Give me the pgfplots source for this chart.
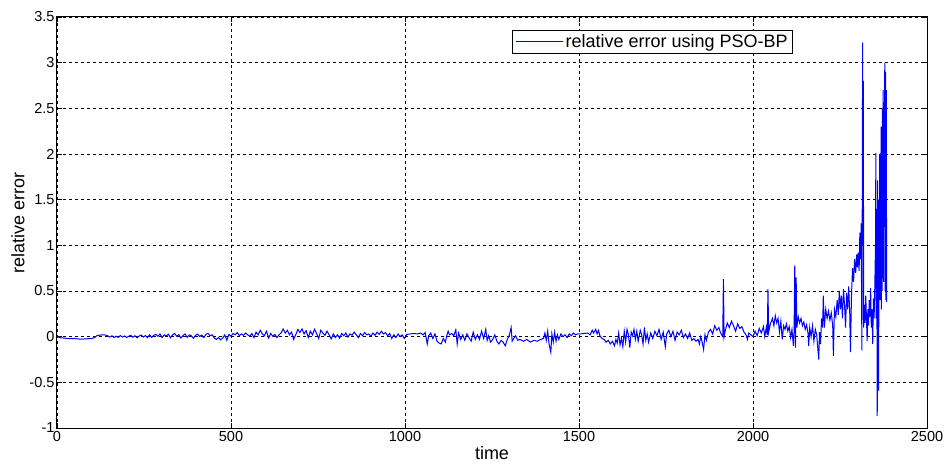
\documentclass[border=0pt]{standalone}
\usepackage{fontspec}
\setmainfont{Liberation Sans}
\usepackage{pgfplots}
\pgfplotsset{compat=1.18}
\definecolor{mblue}{RGB}{0,0,255}
\begin{document}
\begin{tikzpicture}
\path[use as bounding box] (-57pt,-38pt) rectangle (891pt,428pt);
\begin{axis}[
  at={(0pt,0pt)}, anchor=south west,
  scale only axis, width=870pt, height=411pt,
  xmin=0, xmax=2500, ymin=-1, ymax=3.5,
  xtick={0,500,...,2500},
  ytick={-1,-0.5,0,0.5,1,1.5,2,2.5,3,3.5},
  /pgf/number format/assume math mode=true,
  /pgf/number format/fixed,
  /pgf/number format/1000 sep={},
  ticklabel style={font=\fontsize{14.5}{17}\selectfont},
  yticklabel style={xshift=1pt},
  tick align=inside, major tick length=5pt,
  tick style={black, line width=0.6pt},
  axis line style={black, line width=1pt},
  grid=major,
  major grid style={black, line width=0.7pt, dash pattern=on 3pt off 3pt},
  xlabel={time}, ylabel={relative error},
  label style={font=\fontsize{18}{20}\selectfont},
  xlabel style={at={(axis description cs:0.5,-0.061)}, anchor=center},
  ylabel style={at={(axis description cs:-0.045,0.5)}, anchor=center},
  legend style={at={(axis description cs:0.523,0.968)}, anchor=north west,
    font=\fontsize{18}{20}\selectfont, draw=black, line width=0.8pt,
    inner xsep=3pt, inner ysep=2pt},
]
\addplot[mblue, line width=1pt,
  legend image code/.code={\draw[draw=mblue, line width=1.2pt] (0pt,0pt) -- (47pt,0pt);}] coordinates {
(0,0) (5,-0.005) (10,-0.012) (20,-0.015) (30,-0.02) (40,-0.022) (50,-0.02) (60,-0.025) (70,-0.028) (80,-0.025) (90,-0.022) (100,-0.02) (108,-0.01) (115,0.012) (125,0.018) (135,0.02) (142,0.015) (148,0.005) (152,-0.005)
(158,0.01) (164,-0.01) (170,0.005) (176,-0.008) (182,0.012) (188,-0.004) (194,0.008) (200,-0.01) (206,0.004) (212,0.015) (218,-0.006) (224,0.01) (230,-0.012) (236,0.006) (242,0.018) (248,-0.004) (254,0.012) (260,-0.01) (266,0.02) (272,-0.008) (278,0.014) (284,0.025) (290,0.005) (296,0.03) (302,-0.01) (308,0.02) (314,0.008) (320,0.028) (326,-0.012) (332,0.018) (338,0.035) (344,0.005) (350,0.022) (356,-0.015) (362,0.012) (368,0.03) (374,-0.008) (380,0.02) (386,0.01) (392,-0.018) (398,0.015) (404,0.028) (410,0.002) (416,0.018) (422,-0.01) (428,0.025) (434,0.035) (440,0.01) (446,0.02) (452,-0.015) (458,-0.03) (464,-0.01) (470,-0.035) (476,-0.015) (482,0.02) (488,-0.04) (494,0.025) (500,0.005)
(506,0.035) (512,0.02) (518,0.045) (524,0.01) (530,0.03) (536,0.015) (542,0.04) (548,0.02) (554,0.005) (560,0.035) (566,-0.01) (572,0.05) (578,0.02) (584,0.07) (590,0.03) (596,0.01) (602,0.06) (608,-0.015) (614,0.035) (620,0.005) (626,0.025) (632,-0.01) (638,0.02) (644,0.04) (650,0.085) (656,0.04) (662,0.07) (668,0.02) (674,0.05) (680,-0.03) (686,0.02) (692,0.08) (698,0.045) (704,0.085) (710,0.03) (716,0.065) (722,-0.01) (728,0.06) (734,0.02) (740,0.08) (746,0.035) (752,-0.02) (758,0.07) (764,0.04) (770,0.015) (776,0.06) (782,0.02) (788,-0.025) (794,0.03) (800,-0.01)
(806,0.02) (812,-0.015) (818,0.035) (824,0.01) (830,0.04) (836,-0.005) (842,0.03) (848,0.015) (854,0.05) (860,0.02) (866,-0.01) (872,0.035) (878,0.01) (884,0.045) (890,0.02) (896,0.03) (902,0.005) (908,0.04) (914,0.015) (920,0.05) (926,0.025) (932,0.06) (938,0.03) (944,0.045) (950,0.01) (956,0.035) (962,-0.02) (968,0.02) (974,-0.01) (980,0.03) (986,0.0) (992,0.02) (998,-0.02)
(1005,0.025) (1015,0.03) (1025,0.035) (1035,0.03) (1045,0.04) (1052,0.02) (1058,0.045) (1064,-0.08) (1068,0.01) (1074,0.04) (1080,-0.02) (1086,0.03) (1092,-0.05) (1098,-0.07) (1104,-0.08) (1110,-0.02) (1116,-0.06) (1120,0.01) (1124,0.06) (1128,0.02) (1134,0.035) (1140,0.01) (1146,0.075) (1150,-0.08) (1154,0.04) (1160,-0.03) (1166,0.02) (1172,-0.04) (1178,0.03) (1184,-0.01) (1190,-0.05) (1196,0.05) (1202,-0.03)
(1208,0.02) (1214,-0.03) (1220,0.06) (1226,-0.02) (1232,0.08) (1236,-0.04) (1240,0.01) (1246,-0.06) (1252,-0.03) (1258,0.02) (1264,-0.05) (1270,-0.08) (1276,-0.04) (1282,-0.06) (1288,-0.1) (1294,-0.03) (1300,0.02) (1305,0.1) (1308,-0.05) (1312,-0.02) (1318,0.01) (1324,-0.04) (1330,-0.03) (1340,-0.05) (1350,-0.03) (1360,-0.06) (1370,-0.04) (1380,-0.05) (1390,-0.03) (1398,-0.02)
(1402,0.04) (1406,-0.04) (1410,0.06) (1414,-0.08) (1419,-0.17) (1422,0.03) (1426,-0.06) (1430,0.05) (1434,-0.05) (1438,0.02) (1442,-0.03) (1448,0.03) (1454,0.0) (1460,0.02) (1466,-0.01) (1472,0.03) (1478,0.01) (1484,0.04) (1490,0.02) (1496,0.03)
(1505,0.03) (1515,0.035) (1525,0.04) (1532,0.02) (1538,0.07) (1542,0.04) (1548,0.08) (1552,0.03) (1556,0.07) (1560,0.01) (1566,-0.02) (1572,-0.03) (1578,-0.06) (1584,-0.04) (1590,-0.08) (1596,-0.05) (1602,-0.1) (1606,-0.03) (1610,-0.07) (1614,0.04) (1618,-0.09) (1622,-0.02) (1626,-0.11) (1630,0.06) (1634,-0.06) (1638,0.08) (1642,0.02) (1646,-0.12) (1650,0.05) (1654,0.01) (1658,0.08) (1662,-0.03) (1666,0.06) (1670,-0.05) (1676,0.07) (1680,0.02) (1684,-0.08) (1688,0.1) (1692,-0.04) (1696,0.03) (1700,-0.06)
(1706,0.04) (1712,-0.02) (1718,0.06) (1724,0.01) (1730,0.08) (1736,-0.03) (1742,0.05) (1748,-0.11) (1752,0.03) (1758,0.07) (1764,0.0) (1770,0.06) (1776,-0.04) (1782,0.05) (1788,0.02) (1794,0.07) (1800,-0.01) (1806,0.03) (1812,-0.02) (1818,0.04) (1824,-0.04) (1830,-0.02) (1836,-0.05) (1842,-0.03) (1846,-0.08) (1850,0.0) (1854,-0.06) (1858,-0.14) (1862,0.02) (1866,-0.04) (1872,0.05) (1878,0.08) (1884,0.03) (1890,0.12) (1896,0.07) (1902,0.1) (1906,0.05) (1910,0.02) (1913,0.0) (1915,0.63) (1917,0.0) (1920,0.06)
(1926,0.15) (1932,0.1) (1938,0.17) (1944,0.12) (1950,0.06) (1956,0.14) (1962,0.09) (1968,0.11) (1974,0.05) (1980,0.02) (1984,-0.03) (1988,0.04) (1994,0.02) (2000,0.0) (2006,0.06) (2012,0.01) (2018,0.09) (2024,0.04) (2030,0.11) (2034,0.0) (2038,0.1) (2041,0.02) (2043,0.52) (2045,0.05) (2050,0.14)
(2056,0.2) (2060,0.12) (2064,0.23) (2068,0.15) (2072,0.2) (2076,0.05) (2080,0.17) (2084,-0.03) (2088,0.12) (2092,0.08) (2096,0.14) (2100,0.06) (2104,0.11) (2108,-0.01) (2112,0.08) (2116,-0.1) (2118,0.05) (2120,0.78) (2122,-0.12) (2124,0.65) (2126,0.1)
(2130,0.22) (2134,0.15) (2138,0.2) (2142,0.12) (2146,0.16) (2150,0.08) (2154,0.13) (2158,0.04) (2160,-0.1) (2163,0.1) (2167,0.0) (2171,0.12) (2175,-0.05) (2179,0.08) (2183,0.02) (2186,-0.12) (2189,-0.25) (2191,0.05) (2194,-0.08) (2197,0.2) (2200,0.1) (2202,0.45) (2205,0.1)
(2209,0.3) (2213,0.2) (2217,0.28) (2221,0.18) (2225,0.26) (2229,0.12) (2231,-0.21) (2234,0.3) (2238,0.22) (2242,0.4) (2245,0.24) (2248,0.5) (2251,0.3) (2254,0.45) (2257,0.2) (2260,0.52) (2263,0.35) (2266,0.1) (2269,0.48) (2272,0.3) (2275,0.55) (2278,0.25) (2280,-0.17) (2283,0.45) (2286,0.75) (2289,0.6)
(2292,0.85) (2295,0.7) (2298,0.9) (2300,0.76) (2302,0.92) (2305,0.72) (2307,1.14) (2309,0.85) (2311,1.24) (2312,0.4)
(2313,-0.15) (2315,3.22) (2316,1.0) (2317,2.8) (2318,0.1) (2320,0.35) (2322,0.15) (2324,0.45) (2326,0.2) (2328,-0.05) (2330,0.3) (2332,0.12) (2334,0.4) (2336,0.22) (2338,0.53) (2340,0.1) (2342,0.3) (2344,-0.08) (2346,0.42) (2348,0.2) (2350,0.55) (2352,1.0) (2353,2.01) (2354,0.2) (2355,1.4) (2356,0.5) (2357,-0.87) (2358,1.71) (2359,0.3) (2360,1.2) (2361,-0.59) (2362,1.5) (2363,0.8) (2364,2.0) (2365,0.4) (2366,1.8) (2367,0.9) (2368,2.3) (2369,0.3) (2370,2.1) (2371,0.5) (2372,2.5) (2373,0.8) (2374,2.7) (2375,0.6) (2376,2.4) (2377,1.2) (2378,2.8) (2379,3.0) (2380,0.5) (2381,2.9) (2382,0.4) (2383,2.7) (2384,0.38)
};
\addlegendentry{relative error using PSO-BP}
\end{axis}
\end{tikzpicture}
\end{document}
